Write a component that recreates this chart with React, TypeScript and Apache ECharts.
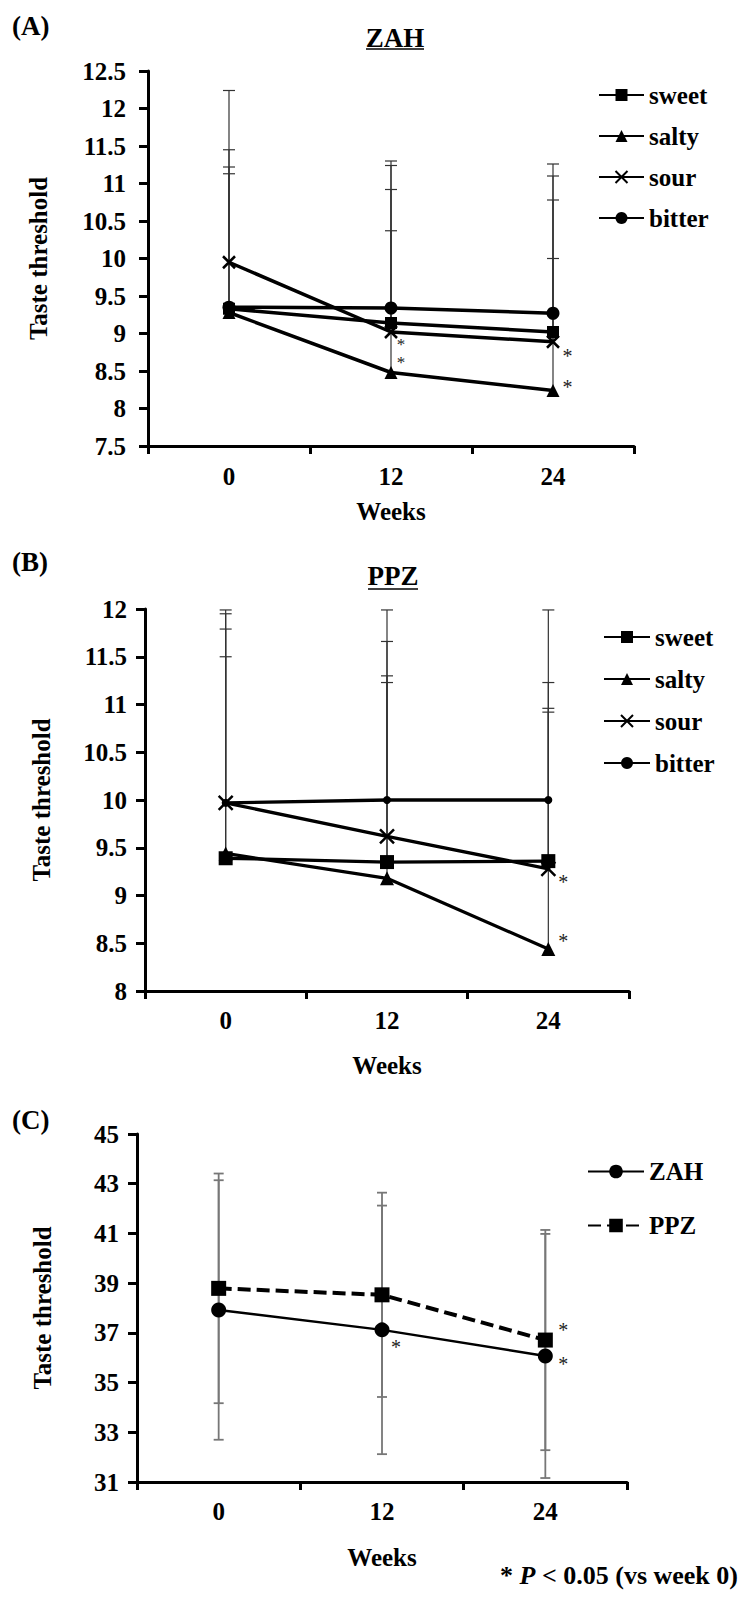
import React, { useEffect, useRef } from "react";
import * as echarts from "echarts";

// ---------- data ----------
const weeks = ["0", "12", "24"];

// Panel A: ZAH, taste thresholds (mean) and upper SD
const zahSweet = [9.33, 9.14, 9.02];
const zahSalty = [9.28, 8.48, 8.24];
const zahSour = [9.95, 9.02, 8.89];
const zahBitter = [9.35, 9.34, 9.27];
const zahSweetSD = [1.89, 1.78, 1.76];
const zahSaltySD = [1.85, 1.89, 1.76];
const zahSourSD = [2.29, 2.28, 2.37];
const zahBitterSD = [2.1, 1.9, 1.83];

// Panel B: PPZ
const ppzSweet = [9.39, 9.35, 9.36];
const ppzSalty = [9.44, 9.18, 8.44];
const ppzSour = [9.97, 9.62, 9.28];
const ppzBitter = [9.97, 10.0, 10.0];
const ppzSweetSD = [2.4, 1.95, 1.6];
const ppzSaltySD = [2.06, 2.05, 2.48];
const ppzSourSD = [1.98, 2.04, 1.95];
const ppzBitterSD = [2.02, 1.99, 1.99];

// Panel C: total taste threshold
const totalZAH = [37.92, 37.12, 36.07];
const totalZAHSD = [5.22, 5.0, 4.91];
const totalPPZ = [38.79, 38.53, 36.71];
const totalPPZSD = [4.62, 4.11, 4.43];

// significance (* P < 0.05 vs week 0): week indices
// (at week 12 in panel A the marks for sour and salty are stacked in one label)
const zahSaltySig = [2];
const zahSourSig = [1, 2];
const ppzSaltySig = [2];
const ppzSourSig = [2];
const totalZAHSig = [1, 2];
const totalPPZSig = [2];

// ---------- styling helpers ----------
const FONT = "Liberation Serif, Times New Roman, serif";
const XSYM = "path://M0,0L10,10M10,0L0,10";

const boldText = (size: number) => ({
  fontFamily: FONT,
  fontWeight: "bold" as const,
  fontSize: size,
  color: "#000",
});

function errData(means: number[], sds: number[], both: boolean) {
  return means.map((m, i) => [i, both ? m - sds[i] : m, m + sds[i], both ? 1 : 0]);
}

function errSeries(grid: number, data: number[][], color: string, lw: number, capHalf: number) {
  return {
    type: "custom",
    xAxisIndex: grid,
    yAxisIndex: grid,
    z: 1,
    silent: true,
    clip: false,
    encode: { x: 0, y: [1, 2] },
    data,
    renderItem: (params: any, api: any) => {
      const x = api.value(0);
      const lo = api.coord([x, api.value(1)]);
      const hi = api.coord([x, api.value(2)]);
      const st = { stroke: color, lineWidth: lw };
      const ch: any[] = [
        { type: "line", shape: { x1: lo[0], y1: lo[1], x2: hi[0], y2: hi[1] }, style: st },
        { type: "line", shape: { x1: hi[0] - capHalf, y1: hi[1], x2: hi[0] + capHalf, y2: hi[1] }, style: st },
      ];
      if (api.value(3) === 1) {
        ch.push({ type: "line", shape: { x1: lo[0] - capHalf, y1: lo[1], x2: lo[0] + capHalf, y2: lo[1] }, style: st });
      }
      return { type: "group", children: ch };
    },
  };
}

function lineSeries(
  name: string,
  grid: number,
  values: number[],
  sig: number[],
  offsets: number[][],
  symbol: string,
  size: number,
  lineWidth: number,
  dashed?: number[],
  stroke?: number
) {
  return {
    type: "line",
    name,
    xAxisIndex: grid,
    yAxisIndex: grid,
    z: 3,
    symbol,
    symbolSize: size,
    showAllSymbol: true,
    lineStyle: { color: "#000", width: lineWidth, type: dashed ? dashed : "solid" },
    itemStyle: stroke
      ? { color: "#000", borderColor: "#000", borderWidth: stroke }
      : { color: "#000", borderWidth: 0 },
    data: values.map((v, i) => {
      const k = sig.indexOf(i);
      if (k < 0) return v;
      const o = offsets[k];
      const n = o[2] || 1;
      return {
        value: v,
        label: {
          show: true,
          formatter: n > 1 ? "*\n*" : "*",
          position: "inside",
          offset: [o[0], o[1]],
          fontFamily: FONT,
          fontSize: n > 1 ? 17 : 20,
          lineHeight: n > 1 ? 18 : 14,
          fontWeight: "normal",
          color: "#222",
        },
      };
    }),
  };
}

function xAxis(grid: number, margin: number, nameGap: number) {
  return {
    type: "category",
    gridIndex: grid,
    data: weeks,
    boundaryGap: true,
    axisLine: { show: true, lineStyle: { color: "#000", width: 3 } },
    axisTick: { show: true, interval: 0, length: 8, lineStyle: { color: "#000", width: 3 } },
    axisLabel: { interval: 0, margin, ...boldText(25) },
    splitLine: { show: false },
    name: "Weeks",
    nameLocation: "middle",
    nameGap,
    nameTextStyle: boldText(25),
  };
}

function yAxis(grid: number, min: number, max: number, interval: number, margin: number, nameGap: number) {
  return {
    type: "value",
    gridIndex: grid,
    min,
    max,
    interval,
    axisLine: { show: true, lineStyle: { color: "#000", width: 3 } },
    axisTick: { show: true, length: 9, lineStyle: { color: "#000", width: 3 } },
    axisLabel: { margin, ...boldText(25) },
    splitLine: { show: false },
    name: "Taste threshold",
    nameLocation: "middle",
    nameRotate: 90,
    nameGap,
    nameTextStyle: boldText(25),
  };
}

function legend(names: string[], left: number, top: number, itemWidth: number, itemHeight: number, gap: number) {
  return {
    data: names,
    orient: "vertical",
    left,
    top,
    itemWidth,
    itemHeight,
    itemGap: gap,
    selectedMode: false,
    textStyle: boldText(25),
  };
}

export default function App() {
  const ref = useRef<HTMLDivElement>(null);

  useEffect(() => {
    document.body.style.margin = "0";
    const chart = echarts.init(ref.current!, undefined, { renderer: "svg" });

    const option: any = {
      animation: false,
      backgroundColor: "#fff",
      textStyle: { fontFamily: FONT },
      grid: [
        { left: 148, top: 71, width: 486, height: 375, containLabel: false, outerBoundsMode: "none" },
        { left: 145, top: 609, width: 484, height: 382, containLabel: false, outerBoundsMode: "none" },
        { left: 137, top: 1134, width: 490, height: 348, containLabel: false, outerBoundsMode: "none" },
      ],
      xAxis: [xAxis(0, 18, 53), xAxis(1, 17, 62), xAxis(2, 17, 63)],
      yAxis: [yAxis(0, 7.5, 12.5, 0.5, 22, 97), yAxis(1, 8, 12, 0.5, 18, 91), yAxis(2, 31, 45, 2, 18, 82)],
      legend: [
        legend(["sweet", "salty", "sour", "bitter"], 593, 77.5, 45, 15, 16),
        legend(["sweet", "salty", "sour", "bitter"], 598, 619.5, 46, 15, 17),
        legend(["ZAH", "PPZ"], 582, 1154, 56, 17, 29),
      ],
      series: [
        // error bars
        errSeries(0, [
          ...errData(zahSweet, zahSweetSD, false),
          ...errData(zahSalty, zahSaltySD, false),
          ...errData(zahSour, zahSourSD, false),
          ...errData(zahBitter, zahBitterSD, false),
        ], "#333", 1.2, 6),
        errSeries(1, [
          ...errData(ppzSweet, ppzSweetSD, false),
          ...errData(ppzSalty, ppzSaltySD, false),
          ...errData(ppzSour, ppzSourSD, false),
          ...errData(ppzBitter, ppzBitterSD, false),
        ], "#333", 1.2, 6),
        errSeries(2, [
          ...errData(totalZAH, totalZAHSD, true),
          ...errData(totalPPZ, totalPPZSD, true),
        ], "#777", 1.8, 5),
        // panel A
        lineSeries("sweet", 0, zahSweet, [], [], "rect", 12, 3.5),
        lineSeries("salty", 0, zahSalty, zahSaltySig, [[14.5, -3.5]], "triangle", 13, 3.5),
        lineSeries("sour", 0, zahSour, zahSourSig, [[10, 21, 2], [14.5, 14.5]], XSYM, 12, 3.5, undefined, 2.5),
        lineSeries("bitter", 0, zahBitter, [], [], "circle", 13, 3.5),
        // panel B
        lineSeries("sweet", 1, ppzSweet, [], [], "rect", 14, 3.3),
        lineSeries("salty", 1, ppzSalty, ppzSaltySig, [[15, -7.5]], "triangle", 14, 3.3),
        lineSeries("sour", 1, ppzSour, ppzSourSig, [[15, 13.5]], XSYM, 14, 3.3, undefined, 2.5),
        lineSeries("bitter", 1, ppzBitter, [], [], "circle", 8, 3.3),
        // panel C
        lineSeries("ZAH", 2, totalZAH, totalZAHSig, [[14, 17], [18, 8]], "circle", 15, 2.5),
        lineSeries("PPZ", 2, totalPPZ, totalPPZSig, [[18, -10]], "rect", 15, 4, [13, 6]),
      ],
      graphic: [
        { type: "text", x: 12, y: 25.5, style: { text: "(A)", font: `bold 27px ${FONT}`, fill: "#000", verticalAlign: "middle" } },
        { type: "text", x: 12, y: 562, style: { text: "(B)", font: `bold 27px ${FONT}`, fill: "#000", verticalAlign: "middle" } },
        { type: "text", x: 12, y: 1120, style: { text: "(C)", font: `bold 27px ${FONT}`, fill: "#000", verticalAlign: "middle" } },
        { type: "text", x: 395, y: 38, style: { text: "ZAH", font: `bold 27px ${FONT}`, fill: "#000", align: "center", verticalAlign: "middle" } },
        { type: "line", shape: { x1: 366, y1: 49, x2: 424, y2: 49 }, style: { stroke: "#000", lineWidth: 1.5 } },
        { type: "text", x: 393, y: 576, style: { text: "PPZ", font: `bold 27px ${FONT}`, fill: "#000", align: "center", verticalAlign: "middle" } },
        { type: "line", shape: { x1: 368, y1: 589, x2: 418, y2: 589 }, style: { stroke: "#000", lineWidth: 1.5 } },
        {
          type: "text",
          x: 738,
          y: 1575,
          style: {
            text: "{a|* }{i|P}{a| < 0.05 (vs week 0)}",
            align: "right",
            verticalAlign: "middle",
            fill: "#000",
            rich: {
              a: { fontFamily: FONT, fontWeight: "bold", fontSize: 26, fill: "#000" },
              i: { fontFamily: FONT, fontWeight: "bold", fontStyle: "italic", fontSize: 26, fill: "#000" },
            },
          },
        },
      ],
    };

    chart.setOption(option);
    return () => chart.dispose();
  }, []);

  return (
    <div
      ref={ref}
      style={{ position: "absolute", left: 0, top: 0, width: 741, height: 1598, background: "#fff" }}
    />
  );
}
